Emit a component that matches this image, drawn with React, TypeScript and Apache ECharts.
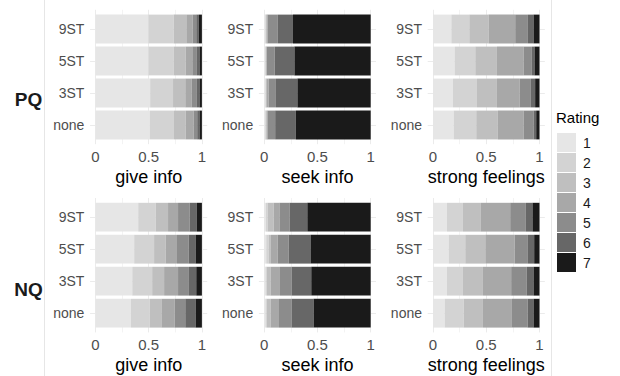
import React, { useEffect, useRef } from "react";
import * as echarts from "echarts";

// ---- data ----
const categories = ["none", "3ST", "5ST", "9ST"];
const ratings = ["1", "2", "3", "4", "5", "6", "7"];
const ratingColors = ["#e6e6e6", "#d3d3d3", "#bfbfbf", "#a8a8a8", "#8c8c8c", "#676767", "#1a1a1a"];
const questions = ["give info", "seek info", "strong feelings"];
const groups = ["PQ", "NQ"];
const majorTicks = [0, 0.5, 1];
const minorTicks = [0.25, 0.75];

// rows: none, 3ST, 5ST, 9ST ; columns: rating 1..7 (proportions)
const pqGiveInfo = [
  [0.511, 0.227, 0.109, 0.075, 0.034, 0.022, 0.022],
  [0.514, 0.215, 0.115, 0.059, 0.05, 0.025, 0.022],
  [0.498, 0.237, 0.112, 0.063, 0.043, 0.025, 0.022],
  [0.498, 0.237, 0.119, 0.059, 0.034, 0.025, 0.028],
];
const pqSeekInfo = [
  [0.009, 0.005, 0.01, 0.01, 0.069, 0.194, 0.703],
  [0.01, 0.006, 0.01, 0.015, 0.069, 0.202, 0.688],
  [0.009, 0.004, 0.006, 0.006, 0.073, 0.186, 0.716],
  [0.01, 0.005, 0.01, 0.008, 0.095, 0.142, 0.73],
];
const pqStrongFeelings = [
  [0.194, 0.212, 0.203, 0.241, 0.094, 0.025, 0.031],
  [0.188, 0.225, 0.187, 0.213, 0.106, 0.04, 0.041],
  [0.203, 0.194, 0.203, 0.25, 0.078, 0.025, 0.047],
  [0.172, 0.169, 0.181, 0.25, 0.119, 0.053, 0.056],
];
const nqGiveInfo = [
  [0.333, 0.178, 0.109, 0.125, 0.099, 0.097, 0.059],
  [0.346, 0.187, 0.112, 0.131, 0.102, 0.069, 0.053],
  [0.364, 0.187, 0.109, 0.106, 0.109, 0.066, 0.059],
  [0.402, 0.165, 0.115, 0.094, 0.109, 0.068, 0.047],
];
const nqSeekInfo = [
  [0.012, 0.01, 0.038, 0.079, 0.12, 0.205, 0.536],
  [0.012, 0.01, 0.038, 0.088, 0.111, 0.183, 0.558],
  [0.019, 0.022, 0.022, 0.063, 0.104, 0.205, 0.565],
  [0.016, 0.016, 0.057, 0.054, 0.095, 0.167, 0.595],
];
const nqStrongFeelings = [
  [0.109, 0.179, 0.181, 0.272, 0.147, 0.056, 0.056],
  [0.131, 0.15, 0.188, 0.265, 0.147, 0.063, 0.056],
  [0.147, 0.156, 0.188, 0.275, 0.125, 0.059, 0.05],
  [0.131, 0.15, 0.169, 0.275, 0.147, 0.062, 0.066],
];

const panelData = [
  [pqGiveInfo, pqSeekInfo, pqStrongFeelings],
  [nqGiveInfo, nqSeekInfo, nqStrongFeelings],
];

// ---- layout ----
const FONT = "Liberation Sans, Arial, Helvetica, sans-serif";
const colX0 = [95.4, 264.2, 433.0];
const unitW = 106.5;
const rowTop = [9.8, 198];
const catH = 32;
const GRID_MAJOR = "#ebebeb";

export default function App() {
  const ref = useRef<HTMLDivElement>(null);

  useEffect(() => {
    if (!ref.current) return;
    const chart = echarts.init(ref.current, null, { renderer: "svg" });

    const grids: any[] = [];
    const xAxes: any[] = [];
    const yAxes: any[] = [];
    const series: any[] = [];

    groups.forEach((g, gi) => {
      questions.forEach((q, qi) => {
        const x0 = colX0[qi];
        const top = rowTop[gi];

        // panel (background grid lines, with ggplot-like expansion)
        const a = grids.length;
        grids.push({ left: x0 - 0.05 * unitW, top, width: unitW * 1.1, height: catH * 4.2 });
        xAxes.push({ gridIndex: a, type: "value", min: -0.05, max: 1.05, show: false });
        yAxes.push({ gridIndex: a, type: "value", min: -0.6, max: 3.6, show: false });
        series.push({
          type: "line",
          xAxisIndex: a,
          yAxisIndex: a,
          data: [],
          silent: true,
          markLine: {
            silent: true,
            z: 1,
            symbol: ["none", "none"],
            label: { show: false },
            emphasis: { disabled: true },
            animation: false,
            data: [
              ...minorTicks.map((v) => ({ xAxis: v, lineStyle: { color: GRID_MAJOR, width: 0.6, type: "solid" } })),
              ...majorTicks.map((v) => ({ xAxis: v, lineStyle: { color: GRID_MAJOR, width: 1, type: "solid" } })),
              ...categories.map((_, ci) => ({ yAxis: ci, lineStyle: { color: GRID_MAJOR, width: 1, type: "solid" } })),
            ],
          },
        });

        // bars
        const b = grids.length;
        grids.push({ left: x0, top: top + catH * 0.1, width: unitW, height: catH * 4 });
        xAxes.push({
          gridIndex: b,
          type: "value",
          min: 0,
          max: 1,
          interval: 0.5,
          name: q,
          nameLocation: "middle",
          nameGap: 27,
          nameTextStyle: { fontSize: 18, color: "#000", fontFamily: FONT },
          axisLine: { show: false },
          axisTick: { show: false },
          splitLine: { show: false },
          axisLabel: { margin: 8, fontSize: 15, color: "#4d4d4d", fontFamily: FONT },
        });
        yAxes.push({
          gridIndex: b,
          type: "category",
          data: categories,
          axisLine: { show: false },
          axisTick: { show: false },
          splitLine: { show: false },
          axisLabel: { margin: 11, fontSize: 14, color: "#4d4d4d", fontFamily: FONT },
        });
        ratings.forEach((r, ri) => {
          series.push({
            type: "bar",
            name: r,
            xAxisIndex: b,
            yAxisIndex: b,
            stack: `p${gi}_${qi}`,
            barCategoryGap: "10%",
            itemStyle: { color: ratingColors[ri] },
            emphasis: { disabled: true },
            data: categories.map((_, ci) => panelData[gi][qi][ci][ri]),
          });
        });
      });
    });

    chart.setOption({
      animation: false,
      backgroundColor: "#ffffff",
      textStyle: { fontFamily: FONT },
      title: {
        text: "Rating",
        left: 556,
        top: 110,
        padding: 0,
        textStyle: { fontSize: 15, fontWeight: "normal", color: "#000", fontFamily: FONT },
      },
      legend: {
        data: ratings,
        orient: "vertical",
        left: 557,
        top: 133,
        padding: 0,
        itemWidth: 19,
        itemHeight: 19,
        itemGap: 1,
        icon: "rect",
        selectedMode: false,
        itemStyle: { borderWidth: 0 },
        textStyle: { fontSize: 14, color: "#1a1a1a", fontFamily: FONT, padding: [0, 0, 0, 2] },
      },
      grid: grids,
      xAxis: xAxes,
      yAxis: yAxes,
      series,
      graphic: [
        { type: "line", shape: { x1: 44.5, y1: 0, x2: 44.5, y2: 376 }, style: { stroke: "#e6e6e6", lineWidth: 1 }, silent: true },
        { type: "line", shape: { x1: 551.5, y1: 0, x2: 551.5, y2: 376 }, style: { stroke: "#e6e6e6", lineWidth: 1 }, silent: true },
        ...groups.map((g, gi) => ({
          type: "text",
          x: 28.5,
          y: gi === 0 ? 99 : 289.5,
          silent: true,
          style: {
            text: g,
            fill: "#1a1a1a",
            fontSize: 19,
            fontWeight: "bold",
            fontFamily: FONT,
            align: "center",
            verticalAlign: "middle",
          },
        })),
      ],
    });

    return () => chart.dispose();
  }, []);

  return (
    <div
      ref={ref}
      style={{ position: "absolute", left: 0, top: 0, width: 620, height: 376, background: "#fff" }}
    />
  );
}
